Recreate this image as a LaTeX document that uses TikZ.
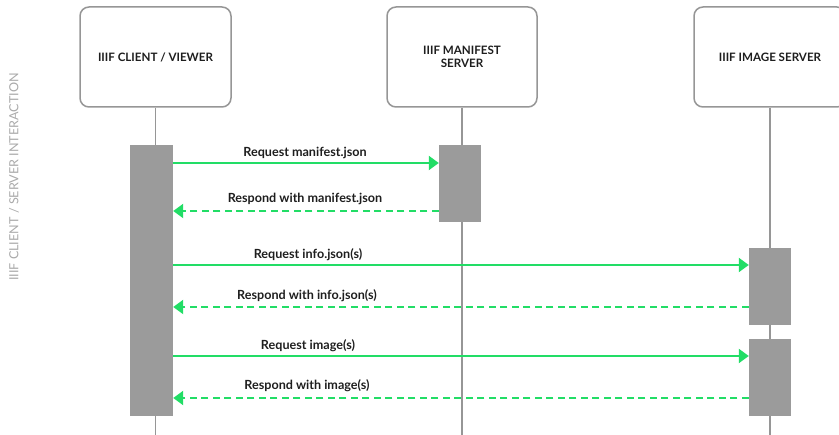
\documentclass[tikz,border=0pt]{standalone}
\usepackage{fontspec}
\setmainfont{Lato}
\usetikzlibrary{arrows.meta}
\definecolor{grn}{RGB}{34,221,102}
\definecolor{barg}{RGB}{155,155,155}
\definecolor{lineg}{RGB}{150,150,150}
\definecolor{sideg}{RGB}{170,170,170}
\definecolor{txt}{RGB}{30,30,30}
\tikzset{
  actor/.style={draw=lineg, line width=1.5pt, rounded corners=9pt, fill=white,
    minimum height=100pt, align=center, font=\fontsize{11.6}{13}\selectfont\bfseries, text=txt},
  lifeline/.style={draw=lineg, line width=1.3pt},
  actbar/.style={fill=barg, draw=none, inner sep=0pt},
  req/.style={draw=grn, line width=2pt, -{Triangle[length=10pt,width=14pt]}},
  resp/.style={req, dash pattern=on 7pt off 4.5pt},
  msg/.style={font=\fontsize{12.6}{14}\selectfont\bfseries, text=txt, inner sep=0pt},
}
\begin{document}
\begin{tikzpicture}[x=1pt,y=-1pt]
\useasboundingbox (0,0) rectangle (839,435);
\clip (0,0) rectangle (839,435);
% side title
\node[rotate=90, font=\fontsize{12.6}{14}\selectfont, text=sideg] (side) at (14,177) {IIIF CLIENT / SERVER INTERACTION};
% actors
\node[actor, minimum width=151pt] (client) at (155.5,57) {IIIF CLIENT / VIEWER};
\node[actor, minimum width=150pt] (manifest) at (462,57) {IIIF MANIFEST\\SERVER};
\node[actor, minimum width=152pt] (image) at (770,57) {IIIF IMAGE SERVER};
% lifelines
\coordinate (bottom) at (0,436);
\draw[lifeline] (client.south) -- (client.south |- bottom);
\draw[lifeline] (manifest.south) -- (manifest.south |- bottom);
\draw[lifeline] (image.south) -- (image.south |- bottom);
% activation bars
\node[actbar, minimum width=43pt, minimum height=271pt] (cbar) at (151.5,280.5) {};
\node[actbar, minimum width=42pt, minimum height=77pt] (mbar) at (460,183.5) {};
\node[actbar, minimum width=42pt, minimum height=77pt] (ibarA) at (770,286.5) {};
\node[actbar, minimum width=42pt, minimum height=77pt] (ibarB) at (770,377.5) {};
% messages
\coordinate (y1) at (0,163);
\coordinate (y2) at (0,211);
\coordinate (y3) at (0,265);
\coordinate (y4) at (0,307);
\coordinate (y5) at (0,356);
\coordinate (y6) at (0,398);
\draw[req] (cbar.east |- y1) -- (mbar.west |- y1);
\draw[resp] (mbar.west |- y2) -- (cbar.east |- y2);
\draw[req] (cbar.east |- y3) -- (ibarA.west |- y3);
\draw[resp] (ibarA.west |- y4) -- (cbar.east |- y4);
\draw[req] (cbar.east |- y5) -- (ibarB.west |- y5);
\draw[resp] (ibarB.west |- y6) -- (cbar.east |- y6);
\node[msg] (m1) at (305,153) {Request manifest.json};
\node[msg] (m2) at (305,199) {Respond with manifest.json};
\node[msg] (m3) at (308,255) {Request info.json(s)};
\node[msg] (m4) at (307,296) {Respond with info.json(s)};
\node[msg] (m5) at (308,346) {Request image(s)};
\node[msg] (m6) at (307,386) {Respond with image(s)};
\end{tikzpicture}
\end{document}
